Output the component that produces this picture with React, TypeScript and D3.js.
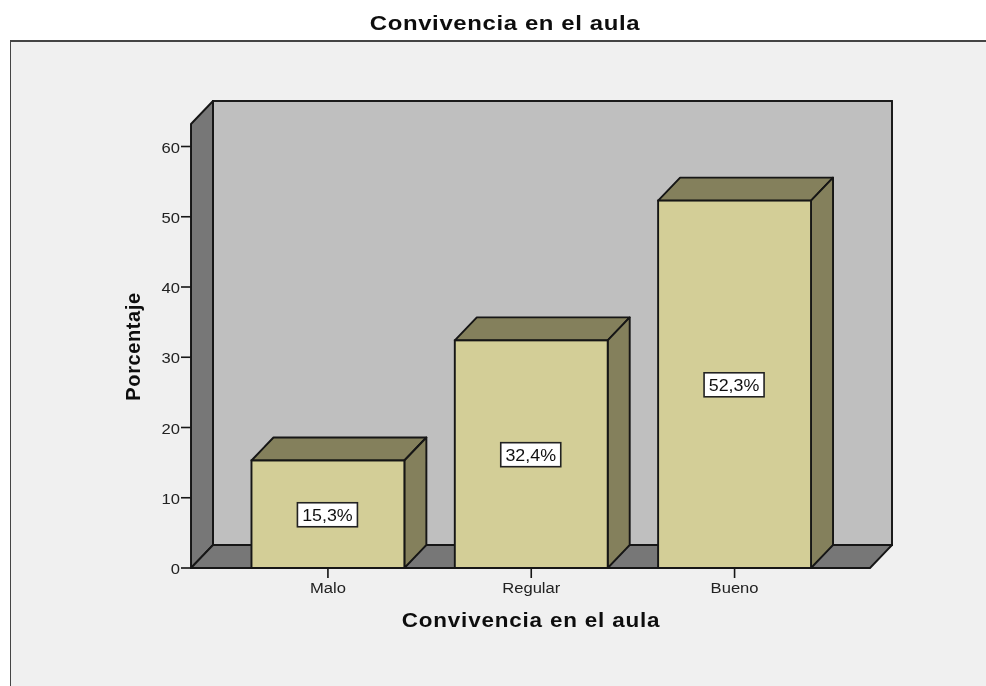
import React from "react";
import * as d3 from "d3";

const categories = ["Malo", "Regular", "Bueno"];
const values = [15.3, 32.4, 52.3];
const labels = ["15,3%", "32,4%", "52,3%"];
const yTicks = [0, 10, 20, 30, 40, 50, 60];
const chartTitle = "Convivencia en el aula";
const xTitle = "Convivencia en el aula";
const yTitle = "Porcentaje";

const FONT = "'Liberation Sans', Arial, sans-serif";
const LINE = "#141414";
const TICK_SX = 1.07;
const SW = 1.9;

export default function App() {
  const y = d3.scaleLinear().domain([0, 60]).range([568, 146.5]);
  const x = d3.scaleBand<string>().domain(categories).range([191.5, 871]).paddingInner(0.248).paddingOuter(0.295);
  const dx = 22, dy = 23;
  const yMaxPx = 124;
  const x0 = 191, x1 = 870, y0 = y(0);
  const poly = (pts: [number, number][]) => pts.map((p) => p.join(",")).join(" ");
  return (
    <svg width={986} height={686} style={{ position: "absolute", left: 0, top: 0, background: "#fff" }}>
      <defs>
        <filter id="soft" x="0" y="0" width="100%" height="100%">
          <feGaussianBlur stdDeviation="0.35" />
        </filter>
      </defs>
      <g filter="url(#soft)">
        <rect x={10} y={41} width={986} height={660} fill="#f0f0f0" stroke="#444" strokeWidth={2} />
        <text transform="translate(505,30) scale(1.14,1)" textAnchor="middle" fontFamily={FONT} fontWeight="bold" fontSize={21} letterSpacing={0.55} fill="#111">{chartTitle}</text>

        <rect x={x0 + dx} y={yMaxPx - dy} width={x1 - x0} height={y0 - yMaxPx} fill="#bfbfbf" stroke={LINE} strokeWidth={SW} />
        <polygon points={poly([[x0, yMaxPx], [x0 + dx, yMaxPx - dy], [x0 + dx, y0 - dy], [x0, y0]])} fill="#777777" stroke={LINE} strokeWidth={SW} strokeLinejoin="round" />
        <polygon points={poly([[x0, y0], [x0 + dx, y0 - dy], [x1 + dx, y0 - dy], [x1, y0]])} fill="#777777" stroke={LINE} strokeWidth={SW} strokeLinejoin="round" />

        {yTicks.map((t) => (
          <g key={t}>
            <line x1={x0 - 10} x2={x0} y1={y(t)} y2={y(t)} stroke={LINE} strokeWidth={1.6} />
            <text transform={`translate(${x0 - 11},${y(t) + 6}) scale(${TICK_SX},1)`} textAnchor="end" fontFamily={FONT} fontSize={15.5} fill="#222">{t}</text>
          </g>
        ))}

        {categories.map((c, i) => {
          const bx = x(c)!;
          const bw = x.bandwidth();
          const top = y(values[i]);
          const cx = bx + bw / 2;
          const cy = (top + y0) / 2;
          const lw = 56;
          return (
            <g key={c}>
              <line x1={cx} x2={cx} y1={y0} y2={y0 + 10} stroke={LINE} strokeWidth={1.6} />
              <text transform={`translate(${cx},${y0 + 25}) scale(${TICK_SX},1)`} textAnchor="middle" fontFamily={FONT} fontSize={15.5} fill="#222">{c}</text>
              <polygon points={poly([[bx, top], [bx + dx, top - dy], [bx + bw + dx, top - dy], [bx + bw, top]])} fill="#84805b" stroke={LINE} strokeWidth={SW} strokeLinejoin="round" />
              <polygon points={poly([[bx + bw, top], [bx + bw + dx, top - dy], [bx + bw + dx, y0 - dy], [bx + bw, y0]])} fill="#84805b" stroke={LINE} strokeWidth={SW} strokeLinejoin="round" />
              <rect x={bx} y={top} width={bw} height={y0 - top} fill="#d3ce97" stroke={LINE} strokeWidth={SW} />
              <rect x={cx - lw / 2 - 2.5} y={cy - 11.5} width={lw + 4} height={24} fill="#ffffff" stroke="#222" strokeWidth={1.6} />
              <text transform={`translate(${cx - 0.5},${cy + 6.5}) scale(1.05,1)`} textAnchor="middle" fontFamily={FONT} fontSize={17} fill="#111">{labels[i]}</text>
            </g>
          );
        })}

        <line x1={x0} x2={x1} y1={y0} y2={y0} stroke={LINE} strokeWidth={SW} />
        <text transform="translate(531,627) scale(1.07,1)" textAnchor="middle" fontFamily={FONT} fontWeight="bold" fontSize={21} letterSpacing={0.75} fill="#111">{xTitle}</text>
        <text transform="translate(140,346.5) rotate(-90) scale(1.0,1)" textAnchor="middle" fontFamily={FONT} fontWeight="bold" fontSize={20} letterSpacing={0.6} fill="#111">{yTitle}</text>
      </g>
    </svg>
  );
}
